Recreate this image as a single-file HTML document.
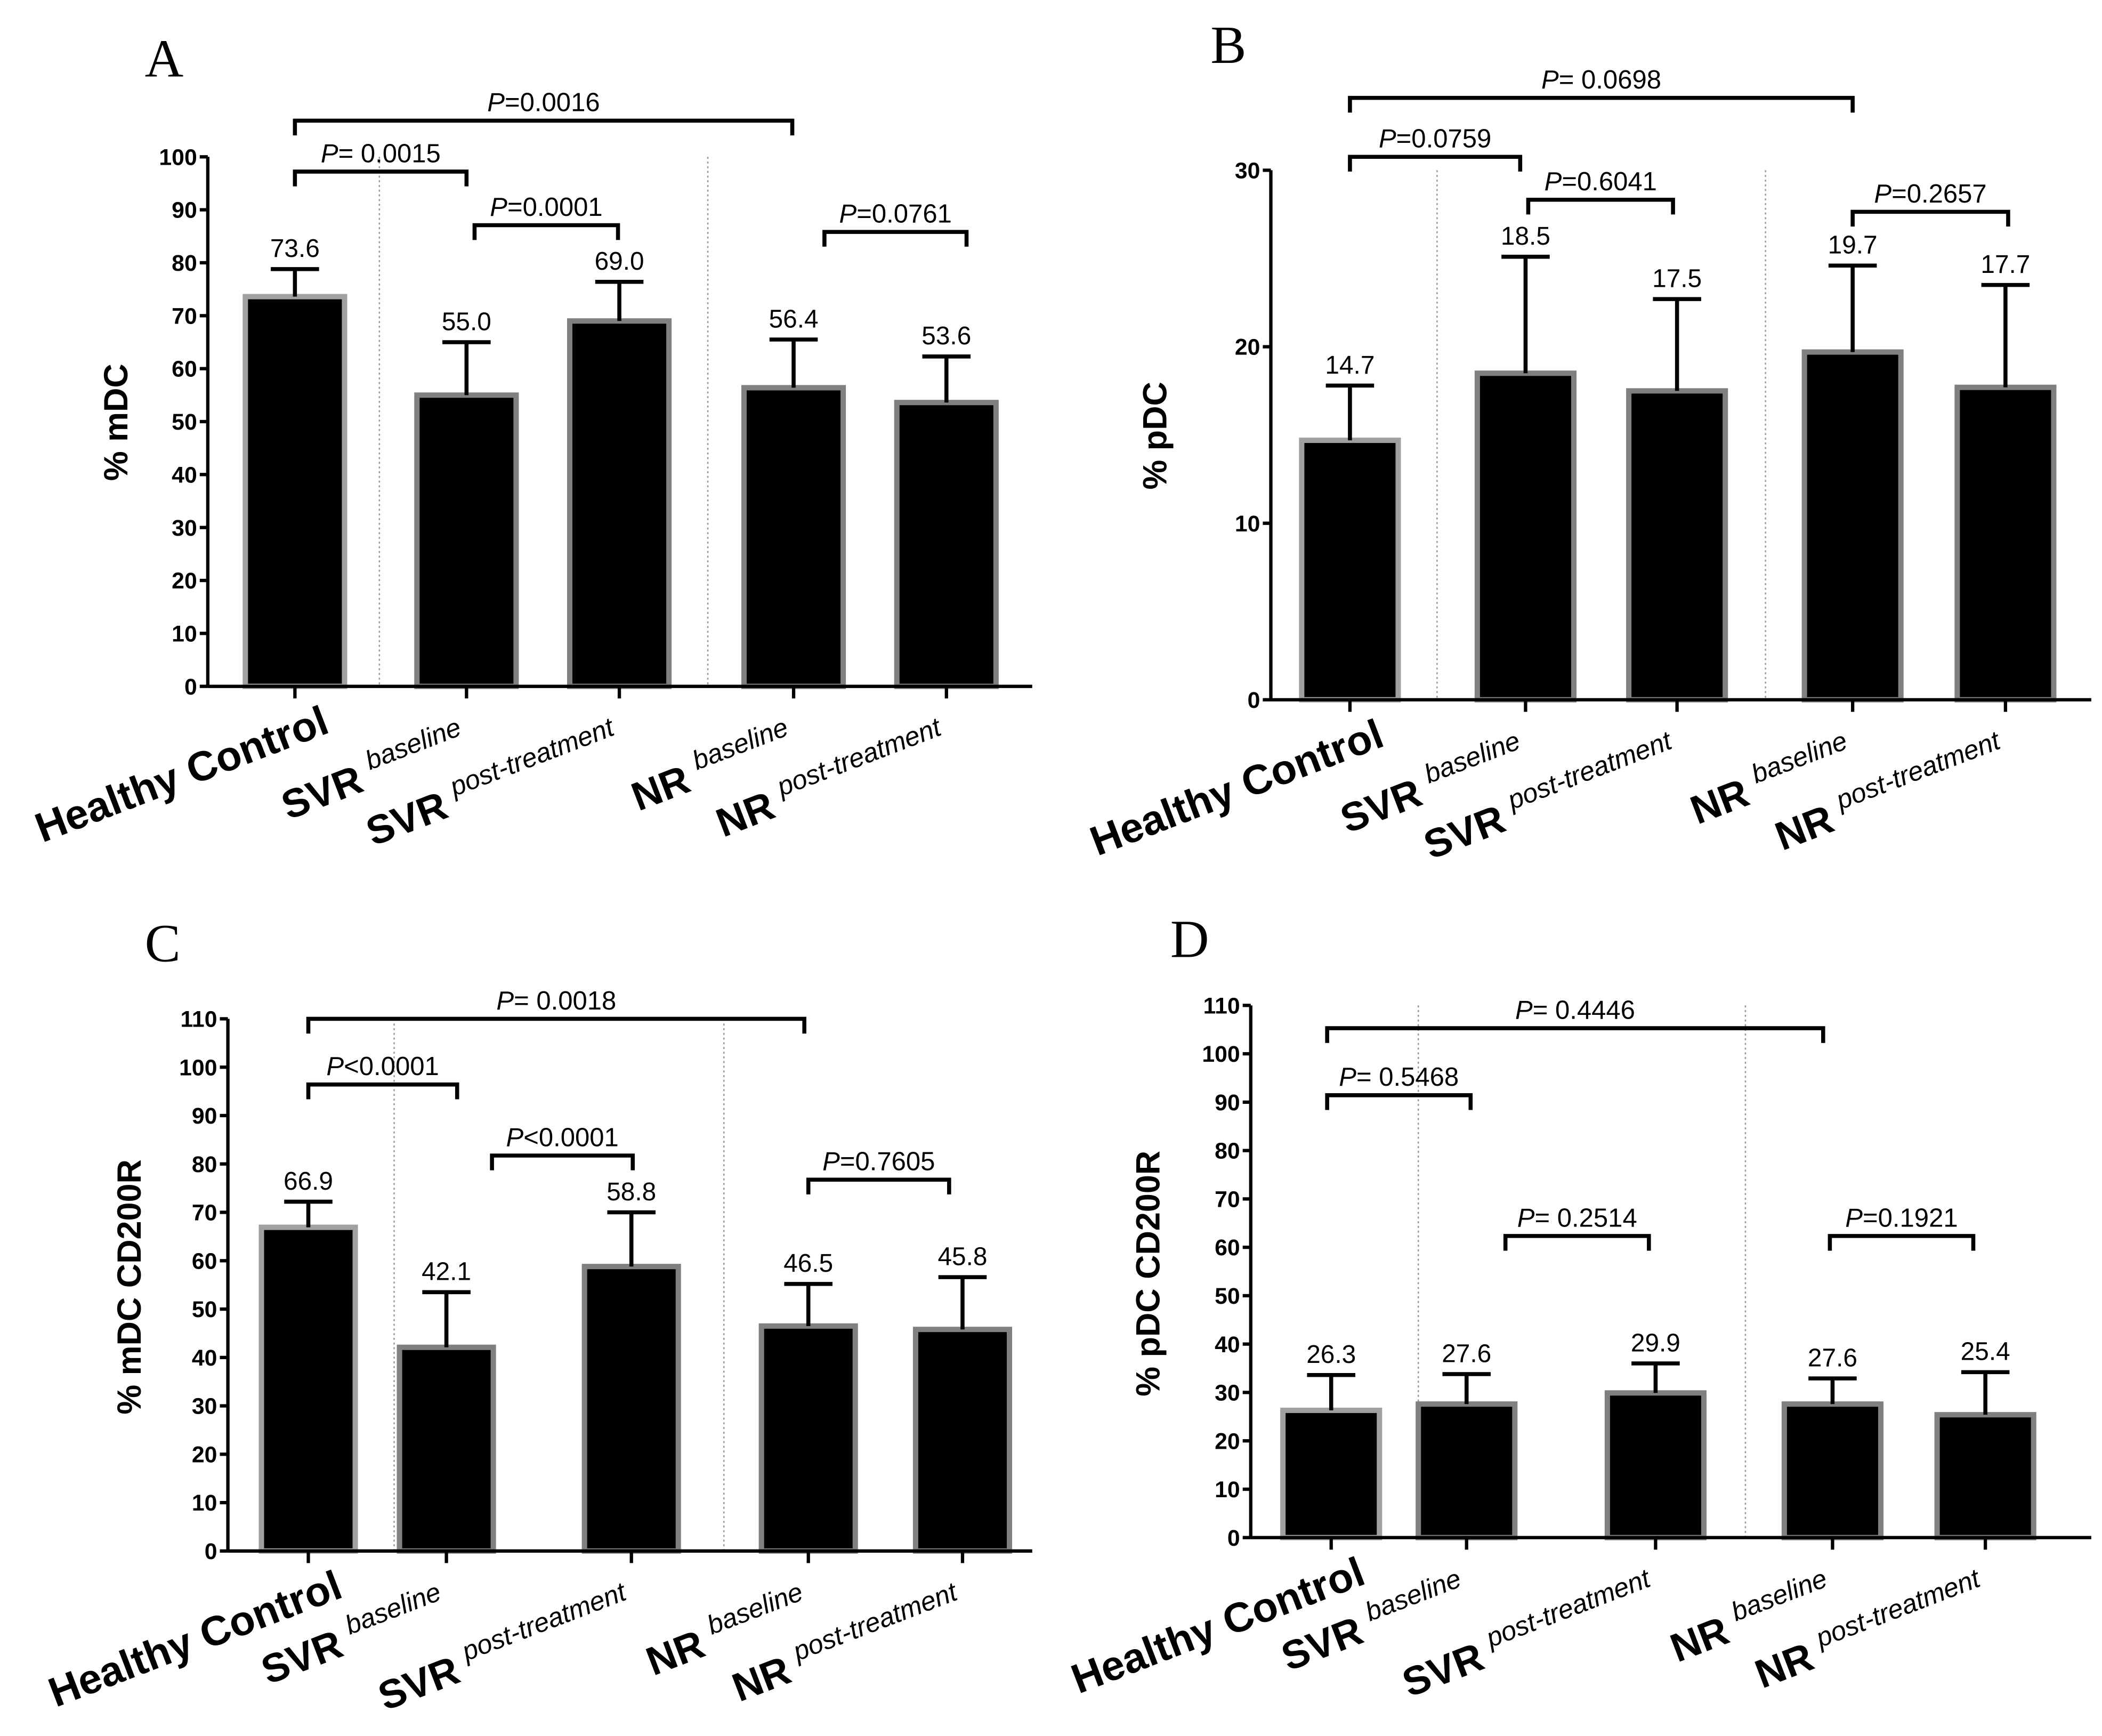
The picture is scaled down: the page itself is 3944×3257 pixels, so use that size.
<!DOCTYPE html>
<html><head><meta charset="utf-8">
<style>
html,body{margin:0;padding:0;background:#fff;}
svg{display:block;}
text{font-family:"Liberation Sans",Arial,sans-serif;}
</style></head>
<body>
<svg id="fig" width="3944" height="3257" viewBox="0 0 1568 1295" preserveAspectRatio="none" xmlns="http://www.w3.org/2000/svg"></svg>
<script>
const categories = ["Healthy Control","SVR baseline","SVR post-treatment","NR baseline","NR post-treatment"];
const meansA = [73.6, 55.0, 69.0, 56.4, 53.6];
const errTopA = [78.8, 65.0, 76.4, 65.5, 62.3];
const meansB = [14.7, 18.5, 17.5, 19.7, 17.7];
const errTopB = [17.8, 25.1, 22.7, 24.6, 23.5];
const meansC = [66.9, 42.1, 58.8, 46.5, 45.8];
const errTopC = [72.2, 53.5, 70.0, 55.2, 56.6];
const meansD = [26.3, 27.6, 29.9, 27.6, 25.4];
const errTopD = [33.6, 33.8, 36.0, 32.9, 34.2];
const ticksA = [0,10,20,30,40,50,60,70,80,90,100];
const ticksB = [0,10,20,30];
const ticksC = [0,10,20,30,40,50,60,70,80,90,100,110];
const ticksD = [0,10,20,30,40,50,60,70,80,90,100,110];

const NS = "http://www.w3.org/2000/svg";
const svg = document.getElementById('fig');
function mk(tag, attrs, parent, txt){
  const e = document.createElementNS(NS, tag);
  for (const k in attrs) e.setAttribute(k, attrs[k]);
  if (txt !== undefined) e.textContent = txt;
  (parent||svg).appendChild(e);
  return e;
}

const panels = [
 {id:'a', letter:'A', lx:108, ly:57, x0:155, x1:770, yb:512, yt:117, ymax:100, ticks:ticksA, means:meansA, errs:errTopA,
  centers:[220,348,462,592,706], bw:74, divs:[283,528], title:'% mDC', tx:95, ty:315,
  brackets:[[220,591,90,'=0.0016'],[220,348,128,'= 0.0015'],[354,461,168,'=0.0001'],[615,721,173,'=0.0761']]},
 {id:'b', letter:'B', lx:903, ly:47, x0:948, x1:1560, yb:522, yt:127, ymax:30, ticks:ticksB, means:meansB, errs:errTopB,
  centers:[1007,1138,1251,1382,1496], bw:72, divs:[1072,1317], title:'% pDC', tx:870, ty:325,
  brackets:[[1007,1382,73,'= 0.0698'],[1007,1134,117,'=0.0759'],[1140,1248,149,'=0.6041'],[1382,1498,158,'=0.2657']]},
 {id:'c', letter:'C', lx:108, ly:717, x0:170, x1:770, yb:1157, yt:760, ymax:110, ticks:ticksC, means:meansC, errs:errTopC,
  centers:[230,333,471,603,718], bw:70, divs:[294,540], title:'% mDC CD200R', tx:105, ty:960,
  brackets:[[230,600,760,'= 0.0018'],[230,341,809,'<0.0001'],[367,472,862,'<0.0001'],[603,708,880,'=0.7605']]},
 {id:'d', letter:'D', lx:873, ly:714, x0:933, x1:1560, yb:1147, yt:750, ymax:110, ticks:ticksD, means:meansD, errs:errTopD,
  centers:[993,1094,1235,1367,1481], bw:72, divs:[1058,1302], title:'% pDC CD200R', tx:865, ty:950,
  brackets:[[990,1360,767,'= 0.4446'],[990,1097,817,'= 0.5468'],[1123,1230,922,'= 0.2514'],[1365,1472,922,'=0.1921']]}
];

panels.forEach(p=>{
  const g = mk('g', {});
  
  
  const y = v => p.yb - (v/p.ymax)*(p.yb-p.yt);
  const L = mk('text',{x:p.lx,y:p.ly,style:'font-family:"Liberation Serif",serif;font-size:40px',fill:'#000'},g,p.letter);
  
  
  p.divs.forEach(dx=>{
    const d = mk('line',{x1:dx,x2:dx,y1:p.yt,y2:p.yb,stroke:'#999','stroke-width':1,'stroke-dasharray':'1.5,2'},g);
    
    
  });
  const ax = mk('line',{x1:p.x0,x2:p.x0,y1:p.yt,y2:p.yb,stroke:'#000','stroke-width':2.5},g);
  
  
  p.ticks.forEach(t=>{
    mk('line',{x1:p.x0-6,x2:p.x0,y1:y(t),y2:y(t),stroke:'#000','stroke-width':2.5},g);
    const tl = mk('text',{x:p.x0-8,y:y(t)+6,'text-anchor':'end','font-size':17,'font-weight':'bold'},g,String(t));
    
    
  });
  const yt = mk('text',{x:p.tx,y:p.ty,'text-anchor':'middle','font-size':25,'font-weight':'bold',transform:`rotate(-90 ${p.tx} ${p.ty})`},g,p.title);
  
  
  p.means.forEach((m,i)=>{
    const cx = p.centers[i];
    const b = mk('rect',{x:cx-p.bw/2,y:y(m),width:p.bw,height:p.yb-y(m),fill:'#000',stroke:(i==0?'#a0a0a0':'#808080'),'stroke-width':4},g);
    
    
    const e = mk('path',{d:`M${cx},${y(m)} V${y(p.errs[i])} M${cx-18},${y(p.errs[i])} H${cx+18}`,stroke:'#000','stroke-width':3,fill:'none'},g);
    
    
    const v = mk('text',{x:cx,y:y(p.errs[i])-9,'text-anchor':'middle','font-size':19},g,m.toFixed(1));
    
    
    mk('line',{x1:cx,x2:cx,y1:p.yb,y2:p.yb+9,stroke:'#000','stroke-width':2.5},g);
    const parts = categories[i].split(' ');
    const lx = (i==0?cx+27:cx+2), ly = (i==0?p.yb+34:p.yb+48);
    const xl = mk('text',{x:lx,y:ly,'text-anchor':'end','font-size':(i==0?31:30),'font-weight':'bold',transform:`rotate(-21 ${lx} ${ly})`},g);
    
    
    if (i==0){ xl.textContent = categories[0]; }
    else {
      mk('tspan',{},xl,parts[0]+' ');
      mk('tspan',{'font-size':20,'font-weight':'normal','font-style':'italic',dy:-13},xl,parts.slice(1).join(' '));
    }
  });
  const xa = mk('line',{x1:p.x0,x2:p.x1,y1:p.yb,y2:p.yb,stroke:'#000','stroke-width':2.5},g);
  
  
  p.brackets.forEach(br=>{
    const [a,b,by,lab] = br;
    const pb = mk('path',{d:`M${a},${by+11} V${by} H${b} V${by+11}`,stroke:'#000','stroke-width':3,fill:'none'},g);
    
    
    const t = mk('text',{x:(a+b)/2,y:by-7,'text-anchor':'middle','font-size':19.5},g);
    
    
    mk('tspan',{'font-style':'italic'},t,'P');
    mk('tspan',{},t,lab);
  });
});
</script>
</body></html>
